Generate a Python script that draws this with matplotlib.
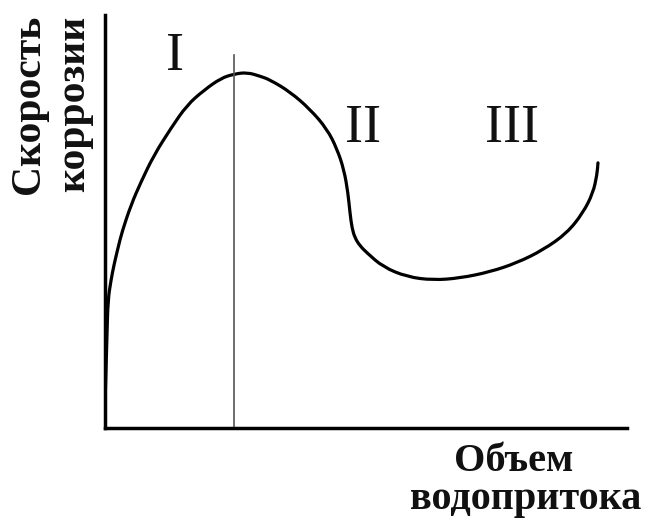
import matplotlib
matplotlib.use("Agg")
import matplotlib.pyplot as plt
from matplotlib.path import Path
from matplotlib.patches import PathPatch

# Data (schematic): volume of water inflow vs corrosion rate
volume = [0.0, 0.19, 0.38, 0.57, 1.15, 1.72, 2.49, 3.26, 4.98, 6.90, 9.39, 12.64,
          15.71, 18.97, 22.22, 24.71, 27.20, 29.69, 31.61, 35.44, 39.27, 42.53,
          44.44, 45.79, 46.55, 46.93, 47.32, 47.89, 48.85, 50.19, 53.26, 57.85,
          62.84, 68.01, 73.75, 78.93, 83.91, 88.51, 91.57, 93.49, 94.25, 94.44]
rate = [5.6, 14.0, 22.5, 31.0, 35.8, 39.5, 43.6, 47.5, 54.0, 59.6, 66.1, 72.6,
        78.2, 81.8, 84.7, 85.7, 86.1, 85.2, 84.3, 81.4, 77.2, 72.4,
        67.6, 62.5, 56.9, 52.1, 48.4, 46.0, 44.1, 42.4, 39.0, 36.6,
        35.8, 36.3, 37.8, 40.0, 43.1, 47.2, 52.1, 56.9, 61.3, 64.2]
boundary_x = 24.7
boundary_top = 90.3
zone_labels = ["I", "II", "III"]
zone_x = [13.4, 49.4, 78.0]
zone_y = [89.8, 72.4, 72.4]
ylabel_lines = ["Скорость", "коррозии"]
xlabel_lines = ["Объем", "водопритока"]

W, H = 645, 518
fig = plt.figure(figsize=(W / 100, H / 100), dpi=100)
ax = fig.add_axes([105 / W, (H - 428) / H, (627 - 105) / W, (428 - 15) / H])
ax.set_xlim(0, 100)
ax.set_ylim(0, 100)
for s in ["top", "right"]:
    ax.spines[s].set_visible(False)
for s in ["left", "bottom"]:
    ax.spines[s].set_linewidth(2.5)
    ax.spines[s].set_color("black")
    ax.spines[s].set_capstyle("projecting")
ax.set_xticks([])
ax.set_yticks([])

ax.plot([boundary_x, boundary_x], [0, boundary_top], color="#555555", lw=1.2)

# smooth drawing of the read points (quadratic segments through midpoints)
pts = list(zip(volume, rate))
verts = [pts[0]]
codes = [Path.MOVETO]
for i in range(1, len(pts) - 1):
    mid = ((pts[i][0] + pts[i + 1][0]) / 2, (pts[i][1] + pts[i + 1][1]) / 2)
    verts += [pts[i], mid]
    codes += [Path.CURVE3, Path.CURVE3]
verts.append(pts[-1])
codes.append(Path.LINETO)
ax.add_patch(PathPatch(Path(verts, codes), facecolor="none", edgecolor="black",
                       lw=2.3, joinstyle="round", capstyle="round"))

for lab, x, y in zip(zone_labels, zone_x, zone_y):
    ax.text(x, y, lab, family="Liberation Serif", fontsize=39,
            ha="center", va="center", color="#111111")

ybold = dict(family="Liberation Serif", fontsize=30, fontweight="bold",
             color="#111111")
xbold = dict(family="Liberation Serif", fontsize=29, fontweight="bold",
             color="#111111")
fig.text(29 / W, 1 - 104 / H, ylabel_lines[0], rotation=90, ha="center",
         va="center", **ybold)
fig.text(74 / W, 1 - 104 / H, ylabel_lines[1], rotation=90, ha="center",
         va="center", **ybold)
fig.text(514 / W, 1 - 471 / H, xlabel_lines[0], ha="center", va="baseline",
         **xbold)
fig.text(526 / W, 1 - 509 / H, xlabel_lines[1], ha="center", va="baseline",
         **xbold)

fig.savefig("out.png", dpi=100)
